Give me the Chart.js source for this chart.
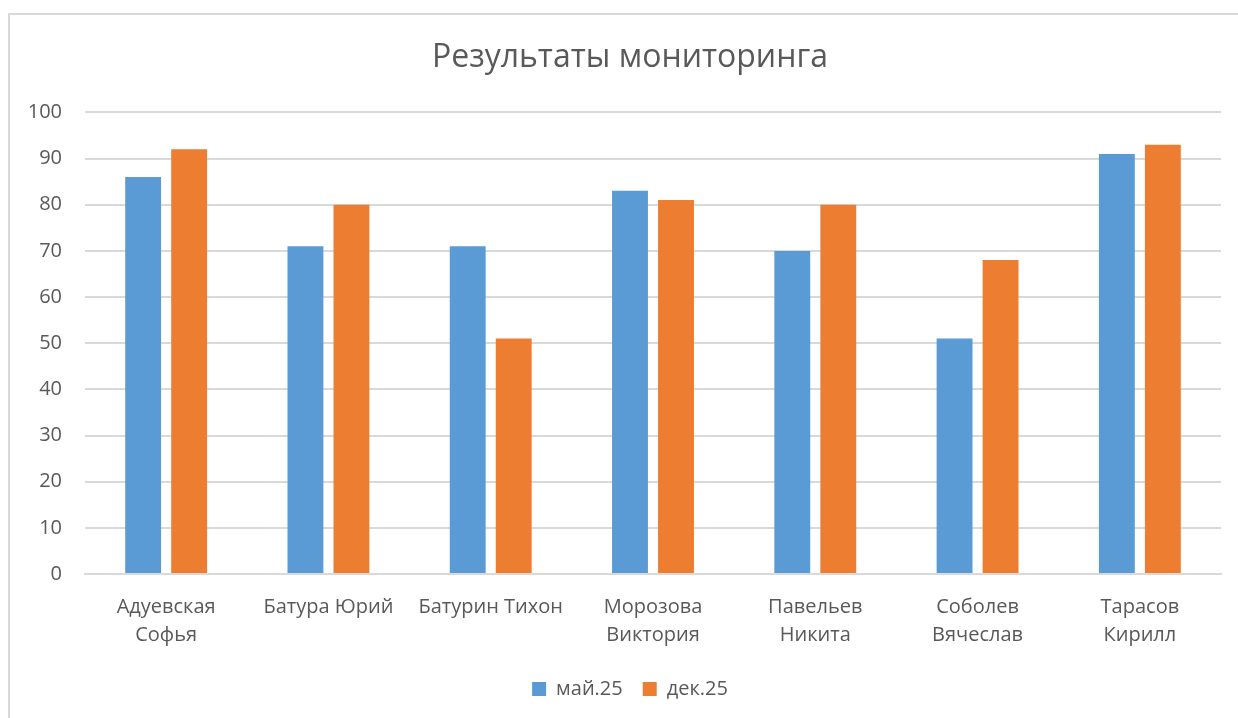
<!DOCTYPE html>
<html>
<head>
<meta charset="utf-8">
<script src="https://cdn.jsdelivr.net/npm/chart.js@4.4.1/dist/chart.umd.min.js"></script>
<style>
  html, body { margin: 0; padding: 0; background: #fff; overflow: hidden; }
  #frame {
    position: absolute; left: 8px; top: 13px;
    width: 1260px; height: 740px;
    border: 2px solid #d9d9d9;
  }
  #wrap { position: absolute; left: 0; top: 0; width: 1240px; height: 718px; }
</style>
</head>
<body>
<div id="frame"></div>
<div id="wrap"><canvas id="chart"></canvas></div>
<script>
// ====== DATA ======
const students = [
  ['Адуевская', 'Софья'],
  'Батура Юрий',
  'Батурин Тихон',
  ['Морозова', 'Виктория'],
  ['Павельев', 'Никита'],
  ['Соболев', 'Вячеслав'],
  ['Тарасов', 'Кирилл']
];
const seriesNames = ['май.25', 'дек.25'];
const mayScores = [86, 71, 71, 83, 70, 51, 91];
const decScores = [92, 80, 51, 81, 80, 68, 93];
const yTicks = [0, 10, 20, 30, 40, 50, 60, 70, 80, 90, 100];

const FONT = '"Open Sans", "Noto Sans", sans-serif';
const textColor = '#595959';
const gridColor = '#d9d9d9';

// ====== CHART ======
const ctx = document.getElementById('chart').getContext('2d');
const myChart = new Chart(ctx, {
  type: 'bar',
  data: {
    labels: students,
    datasets: [
      { label: seriesNames[0], data: mayScores, backgroundColor: '#5b9bd5' },
      { label: seriesNames[1], data: decScores, backgroundColor: '#ed7d31' }
    ]
  },
  options: {
    responsive: true,
    maintainAspectRatio: false,
    animation: false,
    categoryPercentage: 0.567,
    barPercentage: 0.78,
    layout: { padding: { top: 0, left: 20, right: 0, bottom: 9 } },
    plugins: {
      title: {
        display: true,
        text: 'Результаты мониторинга',
        color: textColor,
        font: { family: FONT, size: 32, weight: 'normal' },
        padding: { top: 39, bottom: 35 }
      },
      legend: {
        position: 'bottom',
        labels: {
          color: textColor,
          font: { family: FONT, size: 20 },
          boxWidth: 14,
          boxHeight: 14,
          padding: 20
        }
      },
      tooltip: { enabled: false }
    },
    scales: {
      x: {
        grid: { display: false },
        border: { color: gridColor, width: 2 },
        ticks: {
          color: textColor,
          font: { family: FONT, size: 20, lineHeight: 1.4 },
          padding: 11,
          maxRotation: 0,
          autoSkip: false
        },
        afterFit: (scale) => { scale.height = 85; }
      },
      y: {
        min: 0,
        max: 100,
        afterBuildTicks: (scale) => { scale.ticks = yTicks.map(v => ({ value: v })); },
        grid: { color: gridColor, lineWidth: 2, drawTicks: false },
        border: { display: false },
        ticks: {
          color: textColor,
          font: { family: FONT, size: 20 },
          padding: 23
        },
        afterFit: (scale) => { scale.width = 65; }
      },
      // empty spacer on the right so title/legend sit centred like the original
      spacer: {
        type: 'linear',
        position: 'right',
        grid: { display: false },
        border: { display: false },
        ticks: { display: false },
        afterFit: (scale) => { scale.width = 19; }
      }
    }
  }
});
</script>
</body>
</html>
